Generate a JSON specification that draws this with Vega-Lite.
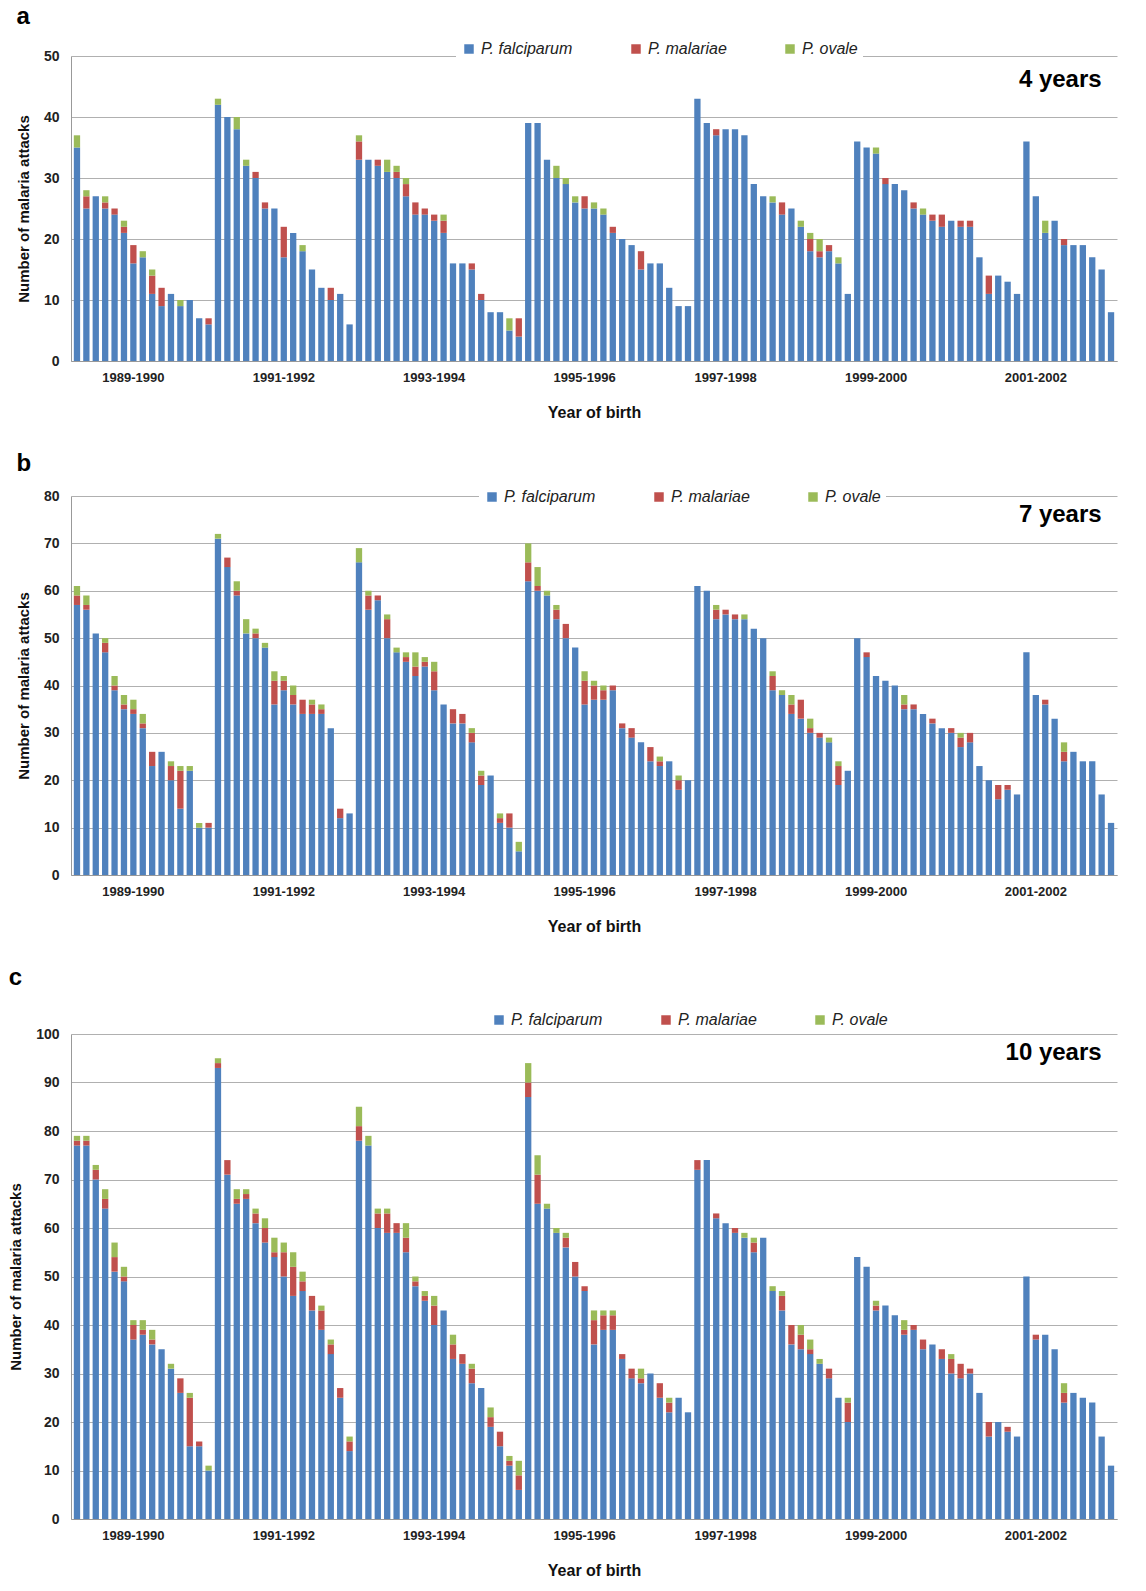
{
"$schema":"https://vega.github.io/schema/vega-lite/v6.json",
"background":"white",
"padding":{"left":8,"top":5,"right":5,"bottom":5},
"config":{"font":"Liberation Sans","view":{"stroke":null},
 "axis":{"labelFont":"Liberation Sans","titleFont":"Liberation Sans","labelFontWeight":"bold","titleFontWeight":"bold","labelColor":"#222","titleColor":"#111","domainColor":"#999","gridColor":"#b0b0b0","tickSize":0},
 "legend":{"labelFont":"Liberation Sans","labelFontSize":16,"labelFontStyle":"italic","labelColor":"#222","symbolType":"square","symbolSize":90,"symbolStrokeWidth":0,"columnPadding":55,"fillColor":"white","padding":5,"direction":"horizontal","orient":"none","title":null},
 "title":{"font":"Liberation Sans","fontSize":24,"fontWeight":"bold","anchor":"start","frame":"bounds","color":"#000"}},
"datasets":{
"a":[{"i":1,"f":35,"m":0,"o":2},{"i":2,"f":25,"m":2,"o":1},{"i":3,"f":27,"m":0,"o":0},{"i":4,"f":25,"m":1,"o":1},{"i":5,"f":24,"m":1,"o":0},{"i":6,"f":21,"m":1,"o":1},{"i":7,"f":16,"m":3,"o":0},{"i":8,"f":17,"m":0,"o":1},{"i":9,"f":11,"m":3,"o":1},{"i":10,"f":9,"m":3,"o":0},{"i":11,"f":11,"m":0,"o":0},{"i":12,"f":9,"m":0,"o":1},{"i":13,"f":10,"m":0,"o":0},{"i":14,"f":7,"m":0,"o":0},{"i":15,"f":6,"m":1,"o":0},{"i":16,"f":42,"m":0,"o":1},{"i":17,"f":40,"m":0,"o":0},{"i":18,"f":38,"m":0,"o":2},{"i":19,"f":32,"m":0,"o":1},{"i":20,"f":30,"m":1,"o":0},{"i":21,"f":25,"m":1,"o":0},{"i":22,"f":25,"m":0,"o":0},{"i":23,"f":17,"m":5,"o":0},{"i":24,"f":21,"m":0,"o":0},{"i":25,"f":18,"m":0,"o":1},{"i":26,"f":15,"m":0,"o":0},{"i":27,"f":12,"m":0,"o":0},{"i":28,"f":10,"m":2,"o":0},{"i":29,"f":11,"m":0,"o":0},{"i":30,"f":6,"m":0,"o":0},{"i":31,"f":33,"m":3,"o":1},{"i":32,"f":33,"m":0,"o":0},{"i":33,"f":32,"m":1,"o":0},{"i":34,"f":31,"m":0,"o":2},{"i":35,"f":30,"m":1,"o":1},{"i":36,"f":27,"m":2,"o":1},{"i":37,"f":24,"m":2,"o":0},{"i":38,"f":24,"m":1,"o":0},{"i":39,"f":23,"m":1,"o":0},{"i":40,"f":21,"m":2,"o":1},{"i":41,"f":16,"m":0,"o":0},{"i":42,"f":16,"m":0,"o":0},{"i":43,"f":15,"m":1,"o":0},{"i":44,"f":10,"m":1,"o":0},{"i":45,"f":8,"m":0,"o":0},{"i":46,"f":8,"m":0,"o":0},{"i":47,"f":5,"m":0,"o":2},{"i":48,"f":4,"m":3,"o":0},{"i":49,"f":39,"m":0,"o":0},{"i":50,"f":39,"m":0,"o":0},{"i":51,"f":33,"m":0,"o":0},{"i":52,"f":30,"m":0,"o":2},{"i":53,"f":29,"m":0,"o":1},{"i":54,"f":26,"m":0,"o":1},{"i":55,"f":25,"m":2,"o":0},{"i":56,"f":25,"m":0,"o":1},{"i":57,"f":24,"m":0,"o":1},{"i":58,"f":21,"m":1,"o":0},{"i":59,"f":20,"m":0,"o":0},{"i":60,"f":19,"m":0,"o":0},{"i":61,"f":15,"m":3,"o":0},{"i":62,"f":16,"m":0,"o":0},{"i":63,"f":16,"m":0,"o":0},{"i":64,"f":12,"m":0,"o":0},{"i":65,"f":9,"m":0,"o":0},{"i":66,"f":9,"m":0,"o":0},{"i":67,"f":43,"m":0,"o":0},{"i":68,"f":39,"m":0,"o":0},{"i":69,"f":37,"m":1,"o":0},{"i":70,"f":38,"m":0,"o":0},{"i":71,"f":38,"m":0,"o":0},{"i":72,"f":37,"m":0,"o":0},{"i":73,"f":29,"m":0,"o":0},{"i":74,"f":27,"m":0,"o":0},{"i":75,"f":26,"m":0,"o":1},{"i":76,"f":24,"m":2,"o":0},{"i":77,"f":25,"m":0,"o":0},{"i":78,"f":22,"m":0,"o":1},{"i":79,"f":18,"m":2,"o":1},{"i":80,"f":17,"m":1,"o":2},{"i":81,"f":18,"m":1,"o":0},{"i":82,"f":16,"m":0,"o":1},{"i":83,"f":11,"m":0,"o":0},{"i":84,"f":36,"m":0,"o":0},{"i":85,"f":35,"m":0,"o":0},{"i":86,"f":34,"m":0,"o":1},{"i":87,"f":29,"m":1,"o":0},{"i":88,"f":29,"m":0,"o":0},{"i":89,"f":28,"m":0,"o":0},{"i":90,"f":25,"m":1,"o":0},{"i":91,"f":24,"m":0,"o":1},{"i":92,"f":23,"m":1,"o":0},{"i":93,"f":22,"m":2,"o":0},{"i":94,"f":23,"m":0,"o":0},{"i":95,"f":22,"m":1,"o":0},{"i":96,"f":22,"m":1,"o":0},{"i":97,"f":17,"m":0,"o":0},{"i":98,"f":11,"m":3,"o":0},{"i":99,"f":14,"m":0,"o":0},{"i":100,"f":13,"m":0,"o":0},{"i":101,"f":11,"m":0,"o":0},{"i":102,"f":36,"m":0,"o":0},{"i":103,"f":27,"m":0,"o":0},{"i":104,"f":21,"m":0,"o":2},{"i":105,"f":23,"m":0,"o":0},{"i":106,"f":19,"m":1,"o":0},{"i":107,"f":19,"m":0,"o":0},{"i":108,"f":19,"m":0,"o":0},{"i":109,"f":17,"m":0,"o":0},{"i":110,"f":15,"m":0,"o":0},{"i":111,"f":8,"m":0,"o":0}],
"b":[{"i":1,"f":57,"m":2,"o":2},{"i":2,"f":56,"m":1,"o":2},{"i":3,"f":51,"m":0,"o":0},{"i":4,"f":47,"m":2,"o":1},{"i":5,"f":39,"m":1,"o":2},{"i":6,"f":35,"m":1,"o":2},{"i":7,"f":34,"m":1,"o":2},{"i":8,"f":31,"m":1,"o":2},{"i":9,"f":23,"m":3,"o":0},{"i":10,"f":26,"m":0,"o":0},{"i":11,"f":20,"m":3,"o":1},{"i":12,"f":14,"m":8,"o":1},{"i":13,"f":22,"m":0,"o":1},{"i":14,"f":10,"m":0,"o":1},{"i":15,"f":10,"m":1,"o":0},{"i":16,"f":71,"m":0,"o":1},{"i":17,"f":65,"m":2,"o":0},{"i":18,"f":59,"m":1,"o":2},{"i":19,"f":51,"m":0,"o":3},{"i":20,"f":50,"m":1,"o":1},{"i":21,"f":48,"m":0,"o":1},{"i":22,"f":36,"m":5,"o":2},{"i":23,"f":39,"m":2,"o":1},{"i":24,"f":36,"m":2,"o":2},{"i":25,"f":34,"m":3,"o":0},{"i":26,"f":34,"m":2,"o":1},{"i":27,"f":34,"m":1,"o":1},{"i":28,"f":31,"m":0,"o":0},{"i":29,"f":12,"m":2,"o":0},{"i":30,"f":13,"m":0,"o":0},{"i":31,"f":66,"m":0,"o":3},{"i":32,"f":56,"m":3,"o":1},{"i":33,"f":58,"m":1,"o":0},{"i":34,"f":50,"m":4,"o":1},{"i":35,"f":47,"m":0,"o":1},{"i":36,"f":45,"m":1,"o":1},{"i":37,"f":42,"m":2,"o":3},{"i":38,"f":44,"m":1,"o":1},{"i":39,"f":39,"m":4,"o":2},{"i":40,"f":36,"m":0,"o":0},{"i":41,"f":32,"m":3,"o":0},{"i":42,"f":32,"m":2,"o":0},{"i":43,"f":28,"m":2,"o":1},{"i":44,"f":19,"m":2,"o":1},{"i":45,"f":21,"m":0,"o":0},{"i":46,"f":11,"m":1,"o":1},{"i":47,"f":10,"m":3,"o":0},{"i":48,"f":5,"m":0,"o":2},{"i":49,"f":62,"m":4,"o":4},{"i":50,"f":60,"m":1,"o":4},{"i":51,"f":59,"m":0,"o":1},{"i":52,"f":54,"m":2,"o":1},{"i":53,"f":50,"m":3,"o":0},{"i":54,"f":48,"m":0,"o":0},{"i":55,"f":36,"m":5,"o":2},{"i":56,"f":37,"m":3,"o":1},{"i":57,"f":37,"m":2,"o":1},{"i":58,"f":39,"m":1,"o":0},{"i":59,"f":31,"m":1,"o":0},{"i":60,"f":29,"m":2,"o":0},{"i":61,"f":28,"m":0,"o":0},{"i":62,"f":24,"m":3,"o":0},{"i":63,"f":23,"m":1,"o":1},{"i":64,"f":24,"m":0,"o":0},{"i":65,"f":18,"m":2,"o":1},{"i":66,"f":20,"m":0,"o":0},{"i":67,"f":61,"m":0,"o":0},{"i":68,"f":60,"m":0,"o":0},{"i":69,"f":54,"m":2,"o":1},{"i":70,"f":55,"m":1,"o":0},{"i":71,"f":54,"m":1,"o":0},{"i":72,"f":54,"m":0,"o":1},{"i":73,"f":52,"m":0,"o":0},{"i":74,"f":50,"m":0,"o":0},{"i":75,"f":39,"m":3,"o":1},{"i":76,"f":38,"m":0,"o":1},{"i":77,"f":34,"m":2,"o":2},{"i":78,"f":33,"m":4,"o":0},{"i":79,"f":30,"m":1,"o":2},{"i":80,"f":29,"m":1,"o":0},{"i":81,"f":28,"m":0,"o":1},{"i":82,"f":19,"m":4,"o":1},{"i":83,"f":22,"m":0,"o":0},{"i":84,"f":50,"m":0,"o":0},{"i":85,"f":46,"m":1,"o":0},{"i":86,"f":42,"m":0,"o":0},{"i":87,"f":41,"m":0,"o":0},{"i":88,"f":40,"m":0,"o":0},{"i":89,"f":35,"m":1,"o":2},{"i":90,"f":35,"m":1,"o":0},{"i":91,"f":34,"m":0,"o":0},{"i":92,"f":32,"m":1,"o":0},{"i":93,"f":31,"m":0,"o":0},{"i":94,"f":30,"m":1,"o":0},{"i":95,"f":27,"m":2,"o":1},{"i":96,"f":28,"m":2,"o":0},{"i":97,"f":23,"m":0,"o":0},{"i":98,"f":20,"m":0,"o":0},{"i":99,"f":16,"m":3,"o":0},{"i":100,"f":18,"m":1,"o":0},{"i":101,"f":17,"m":0,"o":0},{"i":102,"f":47,"m":0,"o":0},{"i":103,"f":38,"m":0,"o":0},{"i":104,"f":36,"m":1,"o":0},{"i":105,"f":33,"m":0,"o":0},{"i":106,"f":24,"m":2,"o":2},{"i":107,"f":26,"m":0,"o":0},{"i":108,"f":24,"m":0,"o":0},{"i":109,"f":24,"m":0,"o":0},{"i":110,"f":17,"m":0,"o":0},{"i":111,"f":11,"m":0,"o":0}],
"c":[{"i":1,"f":77,"m":1,"o":1},{"i":2,"f":77,"m":1,"o":1},{"i":3,"f":70,"m":2,"o":1},{"i":4,"f":64,"m":2,"o":2},{"i":5,"f":51,"m":3,"o":3},{"i":6,"f":49,"m":1,"o":2},{"i":7,"f":37,"m":3,"o":1},{"i":8,"f":38,"m":1,"o":2},{"i":9,"f":36,"m":1,"o":2},{"i":10,"f":35,"m":0,"o":0},{"i":11,"f":31,"m":0,"o":1},{"i":12,"f":26,"m":3,"o":0},{"i":13,"f":15,"m":10,"o":1},{"i":14,"f":15,"m":1,"o":0},{"i":15,"f":10,"m":0,"o":1},{"i":16,"f":93,"m":1,"o":1},{"i":17,"f":71,"m":3,"o":0},{"i":18,"f":65,"m":1,"o":2},{"i":19,"f":66,"m":1,"o":1},{"i":20,"f":61,"m":2,"o":1},{"i":21,"f":57,"m":3,"o":2},{"i":22,"f":54,"m":1,"o":3},{"i":23,"f":50,"m":5,"o":2},{"i":24,"f":46,"m":6,"o":3},{"i":25,"f":47,"m":2,"o":2},{"i":26,"f":43,"m":3,"o":0},{"i":27,"f":39,"m":4,"o":1},{"i":28,"f":34,"m":2,"o":1},{"i":29,"f":25,"m":2,"o":0},{"i":30,"f":14,"m":2,"o":1},{"i":31,"f":78,"m":3,"o":4},{"i":32,"f":77,"m":0,"o":2},{"i":33,"f":60,"m":3,"o":1},{"i":34,"f":59,"m":4,"o":1},{"i":35,"f":59,"m":2,"o":0},{"i":36,"f":55,"m":3,"o":3},{"i":37,"f":48,"m":1,"o":1},{"i":38,"f":45,"m":1,"o":1},{"i":39,"f":40,"m":4,"o":2},{"i":40,"f":43,"m":0,"o":0},{"i":41,"f":33,"m":3,"o":2},{"i":42,"f":32,"m":2,"o":0},{"i":43,"f":28,"m":3,"o":1},{"i":44,"f":27,"m":0,"o":0},{"i":45,"f":19,"m":2,"o":2},{"i":46,"f":15,"m":3,"o":0},{"i":47,"f":11,"m":1,"o":1},{"i":48,"f":6,"m":3,"o":3},{"i":49,"f":87,"m":3,"o":4},{"i":50,"f":65,"m":6,"o":4},{"i":51,"f":64,"m":0,"o":1},{"i":52,"f":59,"m":0,"o":1},{"i":53,"f":56,"m":2,"o":1},{"i":54,"f":50,"m":3,"o":0},{"i":55,"f":47,"m":1,"o":0},{"i":56,"f":36,"m":5,"o":2},{"i":57,"f":39,"m":3,"o":1},{"i":58,"f":39,"m":3,"o":1},{"i":59,"f":33,"m":1,"o":0},{"i":60,"f":29,"m":2,"o":0},{"i":61,"f":28,"m":1,"o":2},{"i":62,"f":30,"m":0,"o":0},{"i":63,"f":25,"m":3,"o":0},{"i":64,"f":22,"m":2,"o":1},{"i":65,"f":25,"m":0,"o":0},{"i":66,"f":22,"m":0,"o":0},{"i":67,"f":72,"m":2,"o":0},{"i":68,"f":74,"m":0,"o":0},{"i":69,"f":62,"m":1,"o":0},{"i":70,"f":61,"m":0,"o":0},{"i":71,"f":59,"m":1,"o":0},{"i":72,"f":58,"m":0,"o":1},{"i":73,"f":55,"m":2,"o":1},{"i":74,"f":58,"m":0,"o":0},{"i":75,"f":47,"m":0,"o":1},{"i":76,"f":43,"m":3,"o":1},{"i":77,"f":36,"m":4,"o":0},{"i":78,"f":35,"m":3,"o":2},{"i":79,"f":34,"m":1,"o":2},{"i":80,"f":32,"m":0,"o":1},{"i":81,"f":29,"m":2,"o":0},{"i":82,"f":25,"m":0,"o":0},{"i":83,"f":20,"m":4,"o":1},{"i":84,"f":54,"m":0,"o":0},{"i":85,"f":52,"m":0,"o":0},{"i":86,"f":43,"m":1,"o":1},{"i":87,"f":44,"m":0,"o":0},{"i":88,"f":42,"m":0,"o":0},{"i":89,"f":38,"m":1,"o":2},{"i":90,"f":39,"m":1,"o":0},{"i":91,"f":35,"m":2,"o":0},{"i":92,"f":36,"m":0,"o":0},{"i":93,"f":33,"m":2,"o":0},{"i":94,"f":30,"m":3,"o":1},{"i":95,"f":29,"m":3,"o":0},{"i":96,"f":30,"m":1,"o":0},{"i":97,"f":26,"m":0,"o":0},{"i":98,"f":17,"m":3,"o":0},{"i":99,"f":20,"m":0,"o":0},{"i":100,"f":18,"m":1,"o":0},{"i":101,"f":17,"m":0,"o":0},{"i":102,"f":50,"m":0,"o":0},{"i":103,"f":37,"m":1,"o":0},{"i":104,"f":38,"m":0,"o":0},{"i":105,"f":35,"m":0,"o":0},{"i":106,"f":24,"m":2,"o":2},{"i":107,"f":26,"m":0,"o":0},{"i":108,"f":25,"m":0,"o":0},{"i":109,"f":24,"m":0,"o":0},{"i":110,"f":17,"m":0,"o":0},{"i":111,"f":11,"m":0,"o":0}]
},
"vconcat":[
{"title":{"text":"a","offset":7},"width":1046,"height":305,
 "layer":[
 {"data":{"name":"a"},"transform":[{"fold":["f","m","o"],"as":["k","n"]}],"mark":{"type":"bar"},
  "encoding":{
   "x":{"field":"i","type":"ordinal","scale":{"paddingInner":0.33,"paddingOuter":0.3},"axis":{"values":[7,23,39,55,70,86,103],"labelExpr":"datum.value==7?'1989-1990':datum.value==23?'1991-1992':datum.value==39?'1993-1994':datum.value==55?'1995-1996':datum.value==70?'1997-1998':datum.value==86?'1999-2000':'2001-2002'","labelAngle":0,"labelFontSize":13,"labelPadding":10,"titleFontSize":16,"titlePadding":20},"title":"Year of birth"},
   "y":{"field":"n","type":"quantitative","stack":"zero","scale":{"domain":[0,50]},"axis":{"values":[0,10,20,30,40,50],"labelFontSize":14,"labelPadding":12,"titleFontSize":15,"titlePadding":12},"title":"Number of malaria attacks"},
   "color":{"field":"k","type":"nominal","scale":{"domain":["f","m","o"],"range":["#4F81BD","#C0504D","#9BBB59"]},"legend":{"labelExpr":"datum.value=='f'?'P. falciparum':datum.value=='m'?'P. malariae':'P. ovale'","legendX":385,"legendY":-20}},
   "order":{"field":"k","sort":"ascending"}}},
 {"data":{"values":[{"t":"4 years"}]},"mark":{"type":"text","align":"right","baseline":"middle","fontSize":24,"fontWeight":"bold","font":"Liberation Sans"},
  "encoding":{"x":{"datum":110,"type":"ordinal"},"y":{"datum":46,"type":"quantitative"},"text":{"field":"t"}}}
 ]},
{"title":{"text":"b","offset":8},"width":1046,"height":379,
 "layer":[
 {"data":{"name":"b"},"transform":[{"fold":["f","m","o"],"as":["k","n"]}],"mark":{"type":"bar"},
  "encoding":{
   "x":{"field":"i","type":"ordinal","scale":{"paddingInner":0.33,"paddingOuter":0.3},"axis":{"values":[7,23,39,55,70,86,103],"labelExpr":"datum.value==7?'1989-1990':datum.value==23?'1991-1992':datum.value==39?'1993-1994':datum.value==55?'1995-1996':datum.value==70?'1997-1998':datum.value==86?'1999-2000':'2001-2002'","labelAngle":0,"labelFontSize":13,"labelPadding":10,"titleFontSize":16,"titlePadding":20},"title":"Year of birth"},
   "y":{"field":"n","type":"quantitative","stack":"zero","scale":{"domain":[0,80]},"axis":{"values":[0,10,20,30,40,50,60,70,80],"labelFontSize":14,"labelPadding":12,"titleFontSize":15,"titlePadding":12},"title":"Number of malaria attacks"},
   "color":{"field":"k","type":"nominal","scale":{"domain":["f","m","o"],"range":["#4F81BD","#C0504D","#9BBB59"]},"legend":{"labelExpr":"datum.value=='f'?'P. falciparum':datum.value=='m'?'P. malariae':'P. ovale'","legendX":408,"legendY":-12}},
   "order":{"field":"k","sort":"ascending"}}},
 {"data":{"values":[{"t":"7 years"}]},"mark":{"type":"text","align":"right","baseline":"middle","fontSize":24,"fontWeight":"bold","font":"Liberation Sans"},
  "encoding":{"x":{"datum":110,"type":"ordinal"},"y":{"datum":76,"type":"quantitative"},"text":{"field":"t"}}}
 ]},
{"title":{"text":"c","offset":17},"width":1046,"height":485,
 "layer":[
 {"data":{"name":"c"},"transform":[{"fold":["f","m","o"],"as":["k","n"]}],"mark":{"type":"bar"},
  "encoding":{
   "x":{"field":"i","type":"ordinal","scale":{"paddingInner":0.33,"paddingOuter":0.3},"axis":{"values":[7,23,39,55,70,86,103],"labelExpr":"datum.value==7?'1989-1990':datum.value==23?'1991-1992':datum.value==39?'1993-1994':datum.value==55?'1995-1996':datum.value==70?'1997-1998':datum.value==86?'1999-2000':'2001-2002'","labelAngle":0,"labelFontSize":13,"labelPadding":10,"titleFontSize":16,"titlePadding":20},"title":"Year of birth"},
   "y":{"field":"n","type":"quantitative","stack":"zero","scale":{"domain":[0,100]},"axis":{"values":[0,10,20,30,40,50,60,70,80,90,100],"labelFontSize":14,"labelPadding":12,"titleFontSize":15,"titlePadding":12},"title":"Number of malaria attacks"},
   "color":{"field":"k","type":"nominal","scale":{"domain":["f","m","o"],"range":["#4F81BD","#C0504D","#9BBB59"]},"legend":{"labelExpr":"datum.value=='f'?'P. falciparum':datum.value=='m'?'P. malariae':'P. ovale'","legendX":415,"legendY":-27}},
   "order":{"field":"k","sort":"ascending"}}},
 {"data":{"values":[{"t":"10 years"}]},"mark":{"type":"text","align":"right","baseline":"middle","fontSize":24,"fontWeight":"bold","font":"Liberation Sans"},
  "encoding":{"x":{"datum":110,"type":"ordinal"},"y":{"datum":96,"type":"quantitative"},"text":{"field":"t"}}}
 ]}
],
"spacing":32,
"resolve":{"scale":{"color":"independent"},"legend":{"color":"independent"}}
}
